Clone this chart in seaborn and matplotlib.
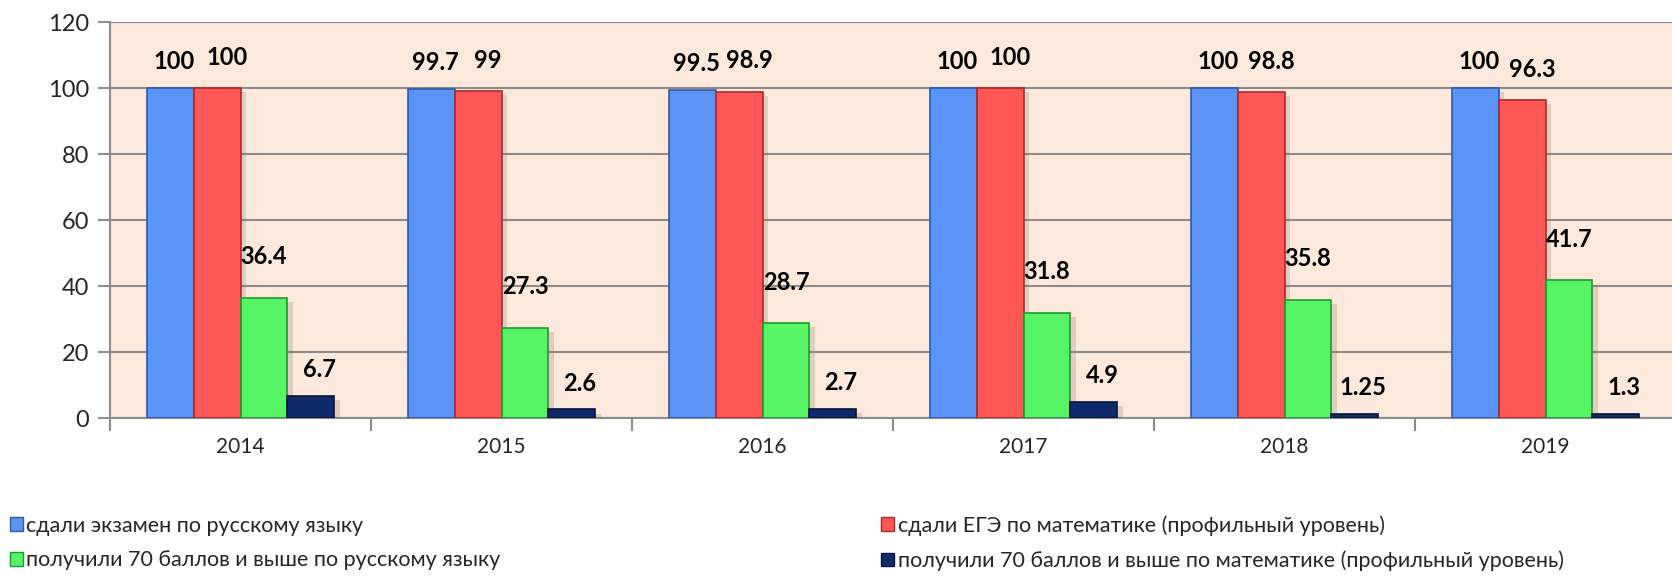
import numpy as np
import pandas as pd
import matplotlib
matplotlib.use("Agg")
import matplotlib.pyplot as plt
import matplotlib.patheffects as pe
from matplotlib.patches import Patch
from matplotlib.transforms import offset_copy
import seaborn as sns

years = ["2014", "2015", "2016", "2017", "2018", "2019"]
series_names = [
    "сдали экзамен по русскому языку",
    "сдали ЕГЭ по математике (профильный уровень)",
    "получили 70 баллов и выше по русскому языку",
    "получили 70 баллов и выше по математике (профильный уровень)",
]
rus_passed = [100, 99.7, 99.5, 100, 100, 100]
math_passed = [100, 99, 98.9, 100, 98.8, 96.3]
rus_70 = [36.4, 27.3, 28.7, 31.8, 35.8, 41.7]
math_70 = [6.7, 2.6, 2.7, 4.9, 1.25, 1.3]
y_ticks = [0, 20, 40, 60, 80, 100, 120]

colors = ["#5B93F7", "#FF5656", "#57F566", "#0E2A6B"]
edge_colors = ["#2E5AAE", "#A82A2A", "#1E9A30", "#06153A"]
label_dy = [8.0, 9.3, 12.5, 8.0]   # label offset above bar (data units)
label_dx = [4, 10, 0, 8]           # horizontal nudge (pixels)

values = [rus_passed, math_passed, rus_70, math_70]
df = pd.DataFrame({
    "year": np.repeat([years], 4, axis=0).ravel(),
    "series": np.repeat(series_names, len(years)),
    "value": np.concatenate(values),
})

sns.set_style("white")
plt.rcParams["font.family"] = ["Lato", "Noto Sans", "DejaVu Sans"]

fig = plt.figure(figsize=(16.72, 5.79), dpi=100)
ax = fig.add_axes([0.0658, 0.278, 0.9366, 0.684])
ax.set_facecolor("#FCE9DB")

sns.barplot(data=df, x="year", y="value", hue="series", hue_order=series_names,
            order=years, palette=colors, width=0.72, ax=ax, legend=False,
            saturation=1, errorbar=None, zorder=3)

shadow = [pe.SimplePatchShadow(offset=(4, -3), shadow_rgbFace="#7a6a5e", alpha=0.22), pe.Normal()]
for i, cont in enumerate(ax.containers):
    for bar in cont:
        bar.set_edgecolor(edge_colors[i])
        bar.set_linewidth(1.2)
        bar.set_path_effects(shadow)
    for bar, v in zip(cont, values[i]):
        cx = bar.get_x() + bar.get_width() / 2
        tr = offset_copy(ax.transData, fig=fig, x=label_dx[i], y=0, units="dots")
        ax.text(cx, v + label_dy[i], f"{v:g}", ha="center", va="center",
                fontsize=17, fontweight="bold", color="black", transform=tr, zorder=5)

ax.set_ylim(0, 120)
ax.set_xlim(-0.5, len(years) - 0.5)
ax.set_yticks(y_ticks)
ax.set_yticklabels([str(t) for t in y_ticks], fontsize=17)
ax.yaxis.grid(True, color="#8C8C8C", linewidth=1.5, zorder=0)
ax.set_axisbelow(True)
ax.set_xlabel("")
ax.set_ylabel("")
ax.tick_params(axis="y", length=9, width=1.5, color="#8C8C8C", pad=6, left=True)
ax.tick_params(axis="x", which="major", length=0, labelsize=15, pad=14)
ax.set_xticks(np.arange(-0.5, len(years) + 0.5, 1), minor=True)
ax.tick_params(axis="x", which="minor", length=9, width=1.5, color="#8C8C8C", bottom=True)
for s in ["top", "right"]:
    ax.spines[s].set_visible(False)
for s in ["left", "bottom"]:
    ax.spines[s].set_color("#8C8C8C")
    ax.spines[s].set_linewidth(1.5)

handles = [Patch(facecolor=c, edgecolor=e, linewidth=1) for c, e in zip(colors, edge_colors)]
order = [0, 2, 1, 3]
fig.legend([handles[k] for k in order], [series_names[k] for k in order],
           ncol=2, loc="center left", bbox_to_anchor=(0.006, 0.062), frameon=False,
           fontsize=15.5, handlelength=0.6, handleheight=0.6, handletextpad=0.15,
           labelspacing=0.68, columnspacing=17.7, borderaxespad=0, borderpad=0)

fig.savefig("out.png", dpi=100)
